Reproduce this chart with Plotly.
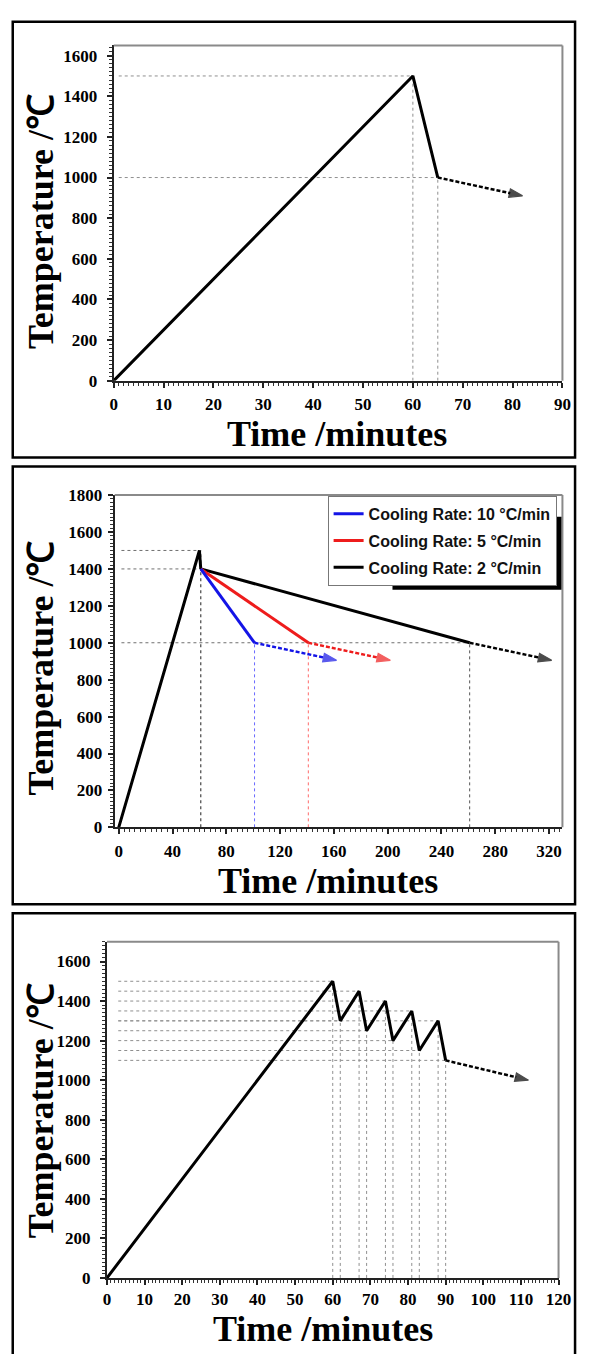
import plotly.graph_objects as go

W, H = 590, 1354

# ---------------- data ----------------
# Panel 1: single heat / quench / slow-cool profile
p1_time = [0, 60, 65]
p1_temp = [0, 1500, 1000]
p1_arrow_time = [65, 82]
p1_arrow_temp = [1000, 910]
p1_xticks = [0, 10, 20, 30, 40, 50, 60, 70, 80, 90]
p1_yticks = [0, 200, 400, 600, 800, 1000, 1200, 1400, 1600]

# Panel 2: three cooling rates
p2_heat_time = [0, 60, 61]
p2_heat_temp = [0, 1500, 1400]
p2_rate_labels = ["Cooling Rate: 10 °C/min", "Cooling Rate: 5 °C/min", "Cooling Rate: 2 °C/min"]
p2_cool_start_time = 61
p2_cool_start_temp = 1400
p2_cool_end_time = [101, 141, 261]
p2_cool_end_temp = [1000, 1000, 1000]
p2_arrow_end_time = [162, 202, 322]
p2_arrow_end_temp = [905, 905, 905]
p2_xticks = [0, 40, 80, 120, 160, 200, 240, 280, 320]
p2_yticks = [0, 200, 400, 600, 800, 1000, 1200, 1400, 1600, 1800]

# Panel 3: cyclic (saw-tooth) profile
p3_time = [0, 60, 62, 67, 69, 74, 76, 81, 83, 88, 90]
p3_temp = [0, 1500, 1300, 1450, 1250, 1400, 1200, 1350, 1150, 1300, 1100]
p3_arrow_time = [90, 112]
p3_arrow_temp = [1100, 1000]
p3_xticks = [0, 10, 20, 30, 40, 50, 60, 70, 80, 90, 100, 110, 120]
p3_yticks = [0, 200, 400, 600, 800, 1000, 1200, 1400, 1600]

# ---------------- styles ----------------
SERIF = "Liberation Serif, Times New Roman, serif"
SANS = "Liberation Sans, Arial, sans-serif"
LINE_W = 3
GUIDE = dict(color="#8f8f8f", width=1, dash="dot")
ARROW_DASH = "4px,2px"
p2_colors = ["#1414e6", "#ee1c1c", "#000000"]
p2_guide_colors = ["#6a6aff", "#ff6a6a", "#555555"]


def px_x(px):
    return px / W


def px_y(py):
    return 1 - py / H


fig = go.Figure()


def guides(xs, ys, x_start):
    gx, gy = [], []
    for x, y in zip(xs, ys):
        gx += [x_start, x, None, x, x, None]
        gy += [y, y, None, 0, y, None]
    return gx, gy


def arrow_trace(xs, ys, color, xa, ya):
    return go.Scatter(
        x=xs, y=ys, xaxis=xa, yaxis=ya, mode="lines+markers",
        line=dict(color=color, width=LINE_W - 0.5, dash=ARROW_DASH),
        marker=dict(symbol="arrow", angleref="previous", size=[0, 14], color=color,
                    line=dict(width=1.2, color=color)),
        showlegend=False, hoverinfo="skip", cliponaxis=False)


# ---- Panel 1 ----
gx, gy = guides(p1_time[1:], p1_temp[1:], 1)
fig.add_trace(go.Scatter(x=gx, y=gy, xaxis="x", yaxis="y", mode="lines", line=GUIDE,
                         showlegend=False, hoverinfo="skip"))
fig.add_trace(go.Scatter(x=p1_time, y=p1_temp, xaxis="x", yaxis="y", mode="lines",
                         line=dict(color="black", width=LINE_W), showlegend=False))
fig.add_trace(arrow_trace(p1_arrow_time, p1_arrow_temp, "black", "x", "y"))

# ---- Panel 2 ----
hx = [2, p2_heat_time[1], None, 2, p2_cool_start_time, None, 2, max(p2_cool_end_time)]
hy = [p2_heat_temp[1], p2_heat_temp[1], None, p2_cool_start_temp, p2_cool_start_temp, None,
      p2_cool_end_temp[0], p2_cool_end_temp[0]]
fig.add_trace(go.Scatter(x=hx, y=hy, xaxis="x2", yaxis="y2", mode="lines",
                         line=dict(color="#6f6f6f", width=1, dash="dot"),
                         showlegend=False, hoverinfo="skip"))
fig.add_trace(go.Scatter(x=[p2_cool_start_time, p2_cool_start_time], y=[0, p2_heat_temp[1]],
                         xaxis="x2", yaxis="y2", mode="lines",
                         line=dict(color="#444444", width=1.2, dash="dot"),
                         showlegend=False, hoverinfo="skip"))
for i in range(3):
    fig.add_trace(go.Scatter(x=[p2_cool_end_time[i], p2_cool_end_time[i]],
                             y=[0, p2_cool_end_temp[i]], xaxis="x2", yaxis="y2", mode="lines",
                             line=dict(color=p2_guide_colors[i], width=1, dash="dot"),
                             showlegend=False, hoverinfo="skip"))

fig.add_trace(go.Scatter(x=p2_heat_time, y=p2_heat_temp, xaxis="x2", yaxis="y2", mode="lines",
                         line=dict(color="black", width=LINE_W), showlegend=False))
for i in [2, 1, 0]:
    fig.add_trace(go.Scatter(
        x=[p2_cool_start_time, p2_cool_end_time[i]],
        y=[p2_cool_start_temp, p2_cool_end_temp[i]],
        xaxis="x2", yaxis="y2", mode="lines",
        line=dict(color=p2_colors[i], width=LINE_W),
        name=p2_rate_labels[i], legendgroup=f"g{i}", legendrank=i + 1))
    fig.add_trace(arrow_trace([p2_cool_end_time[i], p2_arrow_end_time[i]],
                              [p2_cool_end_temp[i], p2_arrow_end_temp[i]],
                              p2_colors[i], "x2", "y2"))

# ---- Panel 3 ----
gx, gy = guides(p3_time[1:], p3_temp[1:], 3)
fig.add_trace(go.Scatter(x=gx, y=gy, xaxis="x3", yaxis="y3", mode="lines", line=GUIDE,
                         showlegend=False, hoverinfo="skip"))
fig.add_trace(go.Scatter(x=p3_time, y=p3_temp, xaxis="x3", yaxis="y3", mode="lines",
                         line=dict(color="black", width=LINE_W), showlegend=False))
fig.add_trace(arrow_trace(p3_arrow_time, p3_arrow_temp, "black", "x3", "y3"))

# ---------------- axes ----------------
tickfont = dict(family=SERIF, size=17, color="black", weight="bold")


def xaxis(dom, rng, ticks, minor, anchor, standoff=2):
    return dict(domain=dom, range=rng, tickvals=ticks, anchor=anchor, showgrid=False,
                zeroline=False, showline=True, linecolor="#222", linewidth=2,
                ticks="outside", ticklen=5, tickwidth=1.5, tickcolor="#222",
                minor=dict(dtick=minor, ticks="outside", ticklen=3, tickwidth=1, tickcolor="#333",
                           showgrid=False),
                tickfont=tickfont, ticklabelstandoff=standoff, fixedrange=True)


def yaxis(dom, rng, ticks, minor, anchor, standoff):
    return dict(domain=dom, range=rng, tickvals=ticks, anchor=anchor, showgrid=False,
                zeroline=False, showline=True, linecolor="#222", linewidth=2,
                ticks="outside", ticklen=5, tickwidth=1.5, tickcolor="#222",
                minor=dict(dtick=minor, ticks="outside", ticklen=3, tickwidth=1, tickcolor="#333",
                           showgrid=False),
                tickfont=tickfont, ticklabelstandoff=standoff, fixedrange=True)


LEG_RIGHT, LEG_BOTTOM = 569, 585
fig.update_layout(
    width=W, height=H, margin=dict(l=0, r=0, t=0, b=0),
    paper_bgcolor="white", plot_bgcolor="white",
    xaxis=xaxis([px_x(113), px_x(575)], [0, 90], p1_xticks, 1, "y"),
    yaxis=yaxis([px_y(377), px_y(37)], [0, 1650], p1_yticks, 20, "x", 6),
    xaxis2=xaxis([px_x(114), px_x(575)], [-3, 330], p2_xticks, 4, "y2"),
    yaxis2=yaxis([px_y(830), px_y(493)], [0, 1800], p2_yticks, 20, "x2", 2),
    xaxis3=xaxis([px_x(106), px_x(571)], [0, 120], p3_xticks, 1, "y3", 0),
    yaxis3=yaxis([px_y(1287), px_y(946)], [0, 1700], p3_yticks, 20, "x3", 6),
    legend=dict(x=px_x(LEG_RIGHT), y=px_y(LEG_BOTTOM), xanchor="right", yanchor="bottom",
                bgcolor="white", bordercolor="#777", borderwidth=1,
                font=dict(family=SANS, size=16, color="#111", weight="bold"),
                tracegroupgap=3, itemwidth=30),
    showlegend=True,
)

# ---------------- frames & decorations ----------------
shapes = []
for xr, yr in [("x", "y"), ("x2", "y2"), ("x3", "y3")]:
    shapes.append(dict(type="line", xref=f"{xr} domain", yref=f"{yr} domain",
                       x0=0, x1=1, y0=1, y1=1, line=dict(color="#8a8a8a", width=2)))
    shapes.append(dict(type="line", xref=f"{xr} domain", yref=f"{yr} domain",
                       x0=1, x1=1, y0=0, y1=1, line=dict(color="#8a8a8a", width=2)))

for top, bottom in [(13, 455), (464, 908), (917, 1375)]:
    shapes.append(dict(type="rect", xref="paper", yref="paper",
                       x0=px_x(9), x1=px_x(588), y0=px_y(bottom), y1=px_y(top),
                       line=dict(color="black", width=2.5), fillcolor="rgba(0,0,0,0)"))

# legend drop shadow (inner part hidden behind the legend box)
shapes.append(dict(type="rect", xref="paper", yref="paper", layer="above",
                   x0=px_x(400), x1=px_x(LEG_RIGHT + 5), y0=px_y(LEG_BOTTOM + 4),
                   y1=px_y(LEG_BOTTOM - 70),
                   line=dict(width=0), fillcolor="black"))

annotations = []
title_font = dict(family=SERIF, size=36, color="black", weight="bold")
for cx, cy in [(343, 431), (334, 884), (328, 1339)]:
    annotations.append(dict(text="Time /minutes", xref="paper", yref="paper",
                            x=px_x(cx), y=px_y(cy), xanchor="center", yanchor="middle",
                            showarrow=False, font=title_font))
for cx, cy in [(38, 215), (38, 668), (38, 1117)]:
    annotations.append(dict(text="Temperature /℃", xref="paper", yref="paper",
                            x=px_x(cx), y=px_y(cy), xanchor="center", yanchor="middle",
                            textangle=-90, showarrow=False, font=title_font))

fig.update_layout(shapes=shapes, annotations=annotations)

fig.write_html("out.html", config={"displayModeBar": False},
               post_script="document.body.style.margin='0px';")
